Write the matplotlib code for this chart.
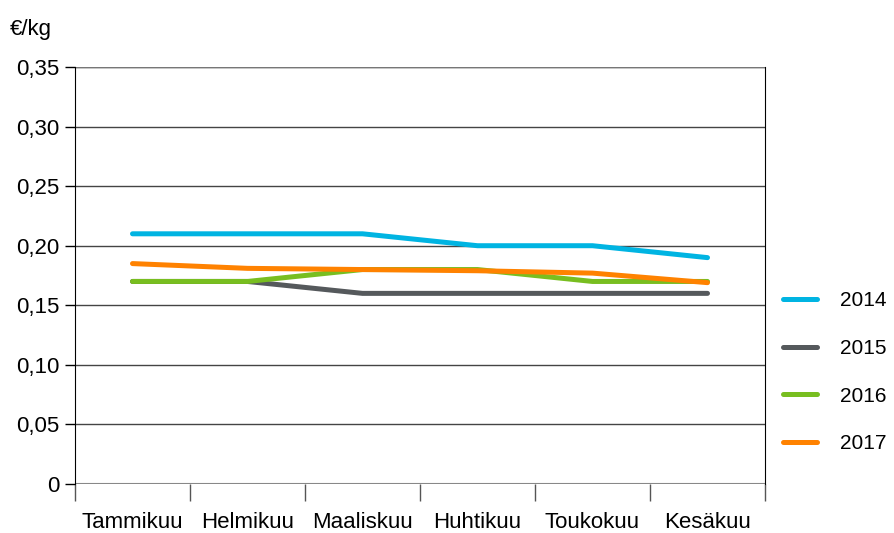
import matplotlib
matplotlib.use("Agg")
import matplotlib.pyplot as plt
from matplotlib.ticker import FixedLocator

plt.rcParams['font.family'] = ['Liberation Sans', 'DejaVu Sans']

months = ["Tammikuu", "Helmikuu", "Maaliskuu", "Huhtikuu", "Toukokuu", "Kesäkuu"]
years = ["2014", "2015", "2016", "2017"]
v2014 = [0.21, 0.21, 0.21, 0.20, 0.20, 0.19]
v2015 = [0.17, 0.17, 0.16, 0.16, 0.16, 0.16]
v2016 = [0.17, 0.17, 0.18, 0.18, 0.17, 0.17]
v2017 = [0.185, 0.181, 0.180, 0.179, 0.177, 0.169]
colors = ["#00B4E2", "#55595C", "#78BE20", "#FF8200"]
yticks = [0, 0.05, 0.10, 0.15, 0.20, 0.25, 0.30, 0.35]
ylabels = ["0", "0,05", "0,10", "0,15", "0,20", "0,25", "0,30", "0,35"]

fig = plt.figure(figsize=(8.95, 5.33), dpi=100)
ax = fig.add_axes([75/895, 1-484/533, 690/895, 417/533])

x = list(range(len(months)))
for vals, c, lab in zip([v2014, v2015, v2016, v2017], colors, years):
    ax.plot(x, vals, color=c, lw=3.6, solid_capstyle='round', label=lab, zorder=3)

ax.set_xlim(-0.5, len(months) - 0.5)
ax.set_ylim(0, 0.35)
ax.set_yticks(yticks)
ax.set_yticklabels(ylabels)
ax.set_xticks(x)
ax.set_xticklabels(months)
ax.xaxis.set_minor_locator(FixedLocator([i - 0.5 for i in range(len(months) + 1)]))
ax.tick_params(axis='x', which='major', length=0, pad=20, labelsize=16)
ax.tick_params(axis='x', which='minor', length=12, color='#555555', width=1)
ax.tick_params(axis='y', length=7, width=1, labelsize=16, pad=4)

ax.grid(axis='y', color='#444444', lw=1, zorder=1)
for s in ['top', 'bottom']:
    ax.spines[s].set_visible(False)
ax.spines['left'].set_color('black')
ax.spines['right'].set_color('black')
ax.axhline(0, color='#888888', lw=1.5, zorder=2)
ax.axhline(0.35, color='#777777', lw=1, zorder=2)

fig.text(10/895, 1-30/533, "€/kg", fontsize=16, va='center', ha='left')

ax.legend(loc='center left', bbox_to_anchor=(1 + 18/690, 0.268), frameon=False,
          fontsize=15, handlelength=1.63, labelspacing=1.38, handletextpad=1.1,
          borderpad=0, borderaxespad=0)

fig.savefig("out.png", dpi=100)
